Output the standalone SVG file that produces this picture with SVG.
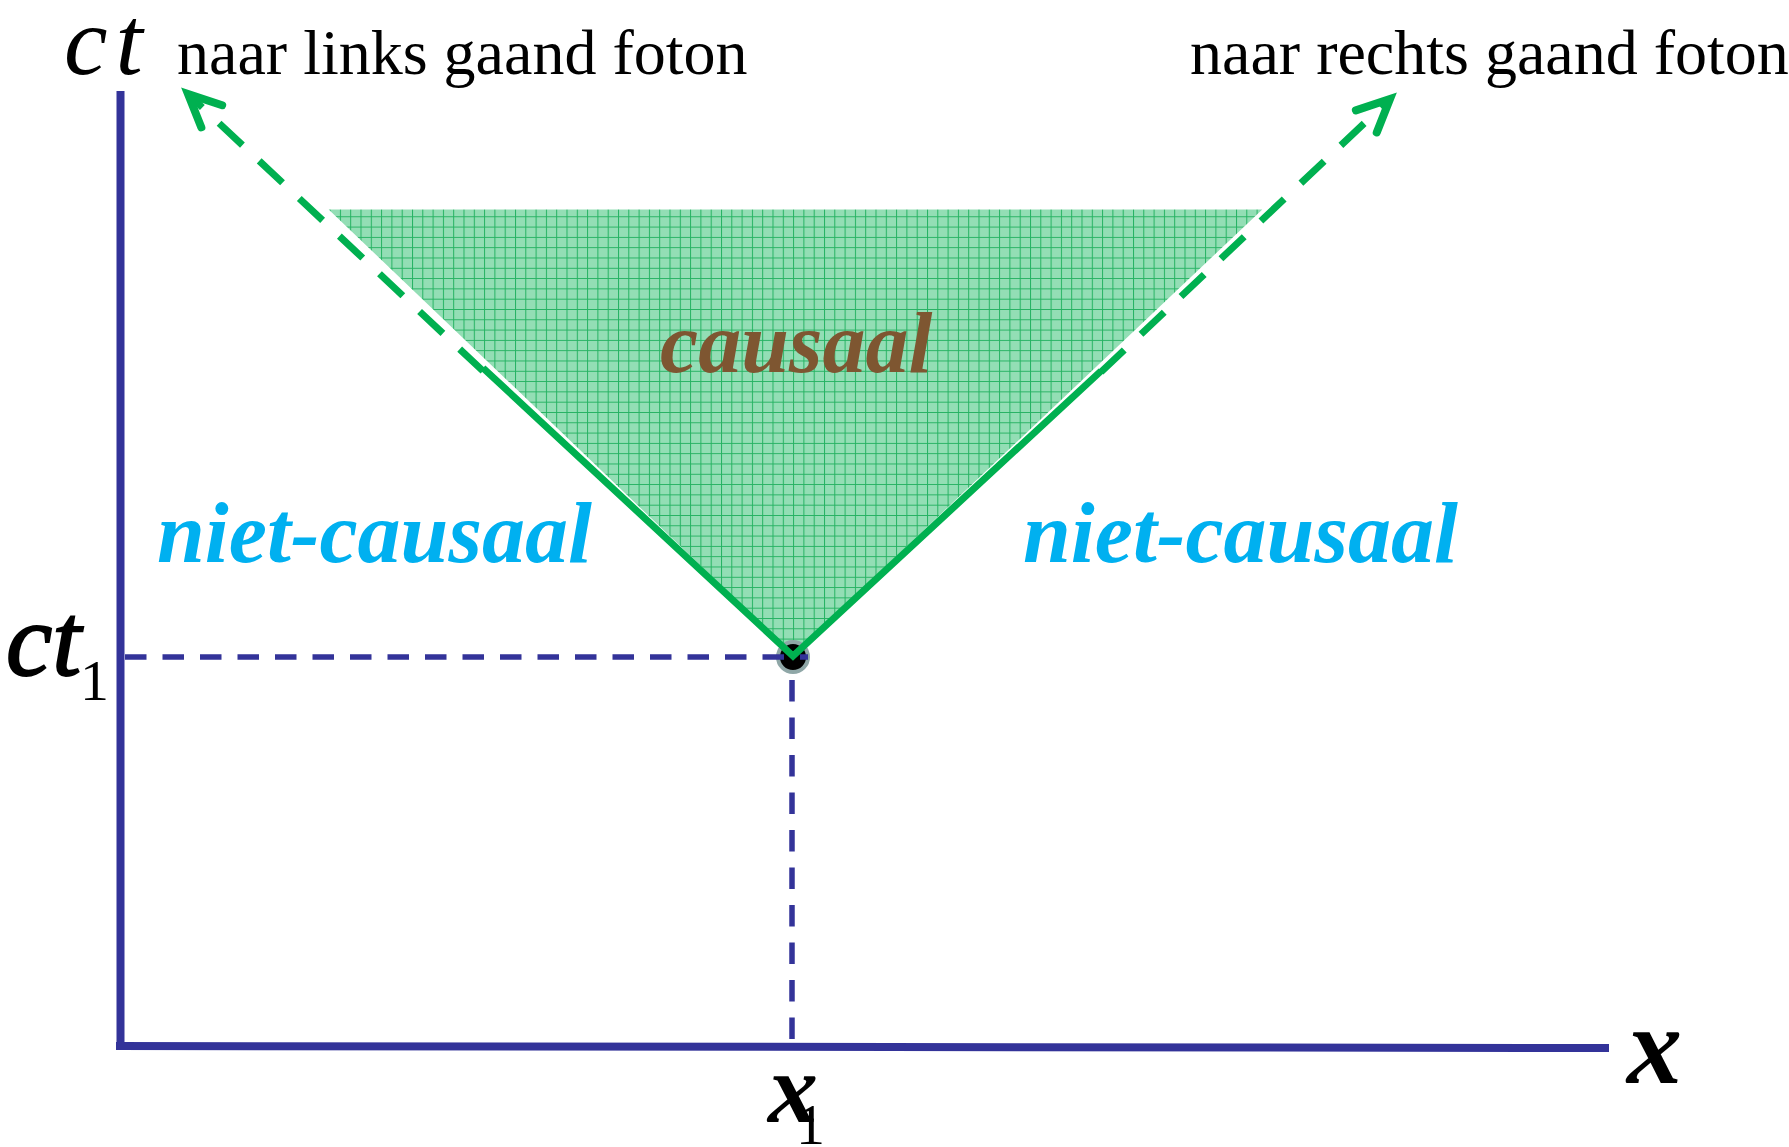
<svg xmlns="http://www.w3.org/2000/svg" width="1789" height="1147" viewBox="0 0 1789 1147">
<style>
.axis{stroke:#333399;stroke-width:8;fill:none}
.guide{stroke:#333399;stroke-width:5.5;fill:none;stroke-dasharray:21.5 16}
.cone{stroke:#00B050;stroke-width:7;fill:none}
.photon{stroke:#00B050;stroke-width:7;fill:none;stroke-dasharray:32 23;marker-end:url(#arrow)}
.serif{font-family:"Liberation Serif","Times New Roman",serif}
.label{font-size:64px;fill:#000}
.region{font-size:86px;font-weight:bold;font-style:italic}
.var{font-style:italic;fill:#000}
</style>
<defs>
<pattern id="grid" width="10.3" height="10.3" patternUnits="userSpaceOnUse">
<rect width="10.3" height="10.3" fill="#93DEB5"/>
<path d="M0 0.5 H10.3 M0.5 0 V10.3" stroke="#25B262" stroke-width="1"/>
</pattern>
<marker id="arrow" markerUnits="userSpaceOnUse" viewBox="-50 -30 60 60" markerWidth="60" markerHeight="60" refX="0" refY="0" orient="auto">
<path d="M -32.6 -15.2 L 0 0 L -32.6 15.2" fill="none" stroke="#00B050" stroke-width="8" stroke-linecap="round" stroke-linejoin="miter"/>
</marker>
</defs>
<g id="causal-region">
<polygon points="325,208 1266,208 793,656" fill="url(#grid)" stroke="#ffffff" stroke-width="3"/>
<text class="serif region" x="660" y="372" fill="#7E5631">causaal</text>
</g>
<g id="axes">
<line class="axis" x1="120.5" y1="91" x2="120.5" y2="1050"/>
<line class="axis" x1="116" y1="1046" x2="1609" y2="1048"/>
</g>
<g id="event">
<circle cx="793" cy="657" r="15" fill="#000" stroke="#8FA7A7" stroke-width="4"/>
</g>
<g id="connectors">
<line class="guide" x1="125" y1="657" x2="808" y2="657"/>
<line class="guide" x1="792" y1="680" x2="792" y2="1042"/>
<polyline class="cone" points="483,368 793,656 1101,371"/>
<line class="photon" x1="483" y1="371" x2="188" y2="94"/>
<line class="photon" x1="1101" y1="372" x2="1390" y2="99"/>
</g>
<g id="labels">
<text class="serif var" x="64" y="74" font-size="98" letter-spacing="8">ct</text>
<text class="serif label" x="177" y="74">naar links gaand foton</text>
<text class="serif label" x="1190" y="74">naar rechts gaand foton</text>
<text class="serif region" x="157" y="562" fill="#00B0F0">niet-causaal</text>
<text class="serif region" x="1023" y="562" fill="#00B0F0">niet-causaal</text>
<text class="serif var" x="6" y="675" font-size="104" stroke="#000" stroke-width="2">ct<tspan x="80" y="700" font-size="58" font-style="normal" stroke-width="0">1</tspan></text>
<text class="serif var" x="768" y="1122" font-size="100" font-weight="bold">x<tspan x="796" y="1144" font-size="58" font-style="normal" font-weight="normal">1</tspan></text>
<text class="serif var" x="1627" y="1083" font-size="110" font-weight="bold">x</text>
</g>
</svg>
